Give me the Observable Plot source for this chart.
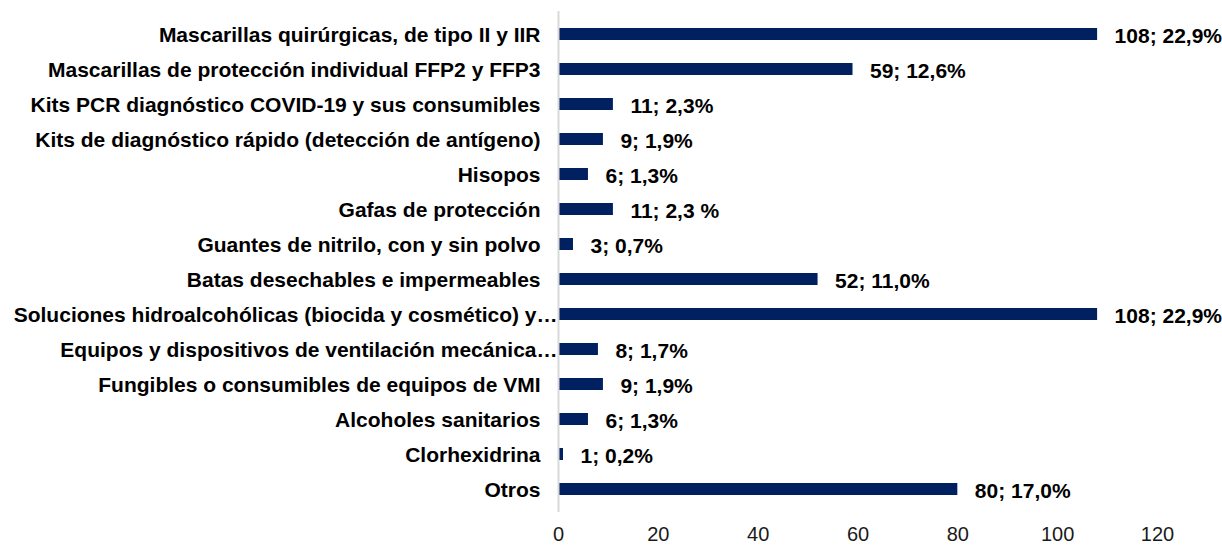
<!DOCTYPE html>
<html><head><meta charset="utf-8">
<script src="https://cdn.jsdelivr.net/npm/d3@7"></script>
<script src="https://cdn.jsdelivr.net/npm/@observablehq/plot@0.6"></script>
<style>body{margin:0;background:#fff;font-family:"Liberation Sans",Arial,sans-serif}</style>
</head><body><div id="chart"></div>
<script>
const categories = [
  "Mascarillas quirúrgicas, de tipo II y IIR",
  "Mascarillas de protección individual FFP2 y FFP3",
  "Kits PCR diagnóstico COVID-19 y sus consumibles",
  "Kits de diagnóstico rápido (detección de antígeno)",
  "Hisopos",
  "Gafas de protección",
  "Guantes de nitrilo, con y sin polvo",
  "Batas desechables e impermeables",
  "Soluciones hidroalcohólicas (biocida y cosmético) y…",
  "Equipos y dispositivos de ventilación mecánica…",
  "Fungibles o consumibles de equipos de VMI",
  "Alcoholes sanitarios",
  "Clorhexidrina",
  "Otros"
];
const counts = [108, 59, 11, 9, 6, 11, 3, 52, 108, 8, 9, 6, 1, 80];
const percents = ["22,9%", "12,6%", "2,3%", "1,9%", "1,3%", "2,3 %", "0,7%", "11,0%", "22,9%", "1,7%", "1,9%", "1,3%", "0,2%", "17,0%"];
const xTicks = [0, 20, 40, 60, 80, 100, 120];

const data = categories.map((c, i) => ({cat: c, n: counts[i], label: `${counts[i]}; ${percents[i]}`}));
const truncated = d => d.cat.endsWith("…");

const chart = Plot.plot({
  width: 1222,
  height: 546,
  marginLeft: 558,
  marginRight: 65,
  marginTop: 11,
  marginBottom: 34,
  style: {fontFamily: '"Liberation Sans", Arial, sans-serif', background: "#fff"},
  x: {domain: [0, 120], ticks: xTicks, label: null},
  y: {domain: categories, paddingInner: 0.65, paddingOuter: 0.325, label: null, axis: null},
  marks: [
    Plot.axisX({ticks: xTicks, tickSize: 0, tickPadding: 14, fontSize: 20, fill: "#1a1a1a", label: null}),
    Plot.barX(data, {x: "n", y: "cat", fill: "#002060"}),
    Plot.ruleX([0], {stroke: "#d9d9d9", strokeWidth: 2}),
    Plot.text(data, {x: 0, y: "cat", text: "cat", textAnchor: "end", dx: -18, dy: 1, fontSize: 21, fontWeight: "bold", fill: "#000",
      filter: d => !truncated(d)}),
    Plot.text(data, {x: 0, y: "cat", text: "cat", textAnchor: "end", dx: -1, dy: 1, fontSize: 21, fontWeight: "bold", fill: "#000",
      filter: truncated}),
    Plot.text(data, {x: "n", y: "cat", text: "label", textAnchor: "start", dx: 17, dy: 2, fontSize: 21, fontWeight: "bold", fill: "#000"})
  ]
});
document.getElementById("chart").appendChild(chart);
</script>
</body></html>
